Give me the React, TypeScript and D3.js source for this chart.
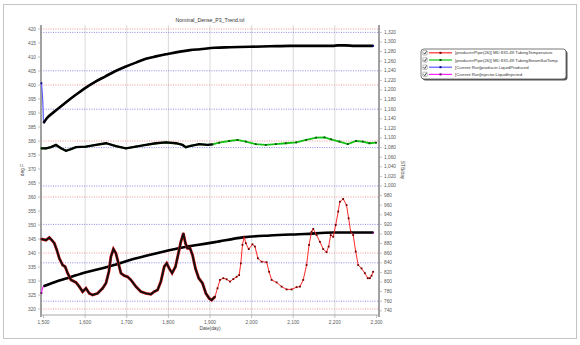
import React from "react";
import * as d3 from "d3";

const W = 580;
const H = 345;

// Tubing temperature (deg F) by date (day)
const tempDates = [
  1495, 1506, 1514, 1520, 1526, 1532, 1538, 1546, 1552, 1558,
  1566, 1578, 1586, 1594, 1602, 1610, 1618, 1630, 1642, 1650,
  1657, 1662, 1668, 1674, 1681, 1686, 1694, 1702, 1710, 1722,
  1734, 1746, 1758, 1766, 1774, 1782, 1790, 1796, 1802, 1809,
  1817, 1825, 1830, 1836, 1841, 1846, 1852, 1858, 1865, 1873,
  1882, 1890, 1898, 1904, 1912, 1918, 1924, 1932, 1940, 1948,
  1956, 1964, 1970, 1974, 1978, 1982, 1986, 1993, 2002, 2008,
  2015, 2024, 2036, 2042, 2048, 2060, 2072, 2084, 2096, 2108,
  2116, 2124, 2132, 2138, 2144, 2148, 2156, 2164, 2172, 2180,
  2185, 2190, 2196, 2202, 2208, 2212, 2220, 2228, 2233, 2238,
  2244, 2250, 2256, 2264, 2272, 2279, 2284, 2288, 2292,
];
const tubingTemp = [
  345.0, 344.6, 345.5, 344.6, 343.5, 341.1, 338.1, 335.7, 335.1, 332.8,
  330.4, 329.5, 328.0, 326.2, 327.4, 325.6, 325.0, 325.6, 327.4, 329.2,
  333.3, 338.7, 341.4, 339.9, 335.7, 332.8, 331.9, 331.5, 330.4, 328.0,
  326.2, 325.6, 325.3, 326.2, 326.8, 329.8, 335.1, 336.3, 334.5, 332.8,
  335.1, 340.5, 344.0, 347.0, 343.5, 341.7, 341.7, 339.3, 334.5, 331.0,
  329.2, 325.6, 323.8, 323.2, 324.4, 327.4, 330.4, 331.0, 330.6, 329.8,
  330.7, 331.5, 332.1, 336.3, 342.9, 345.8, 343.5, 341.4, 343.1, 342.3,
  338.1, 336.9, 336.7, 333.3, 330.4, 329.5, 328.0, 327.0, 327.0, 327.8,
  328.0, 330.4, 335.7, 342.9, 347.6, 348.6, 346.4, 344.0, 341.4, 340.3,
  342.3, 346.4, 345.8, 350.0, 354.8, 358.3, 359.3, 357.1, 352.4, 347.6,
  346.4, 340.5, 335.7, 334.5, 332.8, 331.0, 331.0, 331.9, 333.3,
];

// Tubing steam saturation temperature (deg F)
const satDates = [
  1495, 1506, 1518, 1530, 1542, 1554, 1566, 1578, 1602, 1626,
  1650, 1674, 1698, 1722, 1746, 1770, 1794, 1818, 1834, 1842,
  1854, 1874, 1894, 1906, 1922, 1946, 1966, 1986, 2010, 2034,
  2058, 2082, 2107, 2131, 2155, 2175, 2191, 2211, 2231, 2251,
  2267, 2283, 2299,
];
const satTemp = [
  377.4, 377.4, 377.8, 378.6, 377.4, 376.5, 377.1, 377.8, 378.0, 378.6,
  379.2, 378.2, 377.4, 378.0, 378.6, 379.2, 379.5, 379.2, 378.6, 377.8,
  378.3, 378.9, 378.6, 378.8, 379.4, 380.0, 380.4, 379.8, 378.9, 378.6,
  378.9, 379.2, 379.5, 380.4, 381.2, 381.3, 380.6, 379.8, 378.9, 380.0,
  379.8, 379.2, 379.4,
];

// Producer liquid rate (STB/day)
const prodDates = [
  1495, 1499, 1500, 1508, 1528, 1552, 1576, 1600, 1624, 1648,
  1672, 1698, 1722, 1746, 1770, 1798, 1828, 1852, 1876, 1912,
  1948, 1996, 2044, 2092, 2140, 2195, 2207, 2224, 2248, 2292,
];
const liquidProduced = [
  1214, 1160, 1131, 1141, 1156, 1173, 1189, 1204, 1217, 1228,
  1239, 1249, 1257, 1265, 1270, 1275, 1280, 1283, 1285, 1288,
  1289, 1290, 1291, 1292, 1292, 1292, 1293, 1293, 1292, 1292,
];

// Injector liquid rate (STB/day)
const injDates = [
  1495, 1500, 1528, 1564, 1600, 1629, 1672, 1708, 1749, 1787,
  1828, 1869, 1912, 1979, 2044, 2128, 2195, 2292,
];
const liquidInjected = [
  777, 791, 800, 810, 820, 826, 836, 846, 855, 863,
  871, 877, 883, 893, 897, 900, 903, 903,
];

const seriesNames = [
  "[producer/Pipe(26)] MD 835.49.TubingTemperature",
  "[producer/Pipe(26)] MD 835.49.TubingSteamSatTemp",
  "[Current Run]producer.LiquidProduced",
  "[Current Run]injector.LiquidInjected",
];
const seriesColors = ["#ff2a2a", "#12c212", "#5a5aff", "#ff20ff"];
const markerColors = ["#6a0000", "#0a4a0a", "#000080", "#600060"];

const title = "Nominal_Dense_P3_Trend.tvl";
const xTitle = "Date(day)";
const leftTitle = "deg F";
const rightTitle = "STB/day";

// Dark emphasis stroke extent along the date axis
const tempEmphasisEnd = 1916;
const flowEmphasisStart = 1500;

const FONT = "'Liberation Sans', Arial, sans-serif";

type P = { d: number; v: number };
const zip = (ds: number[], vs: number[]): P[] => ds.map((d, i) => ({ d, v: vs[i] }));

export default function App() {
  const left = 41, right = 379, top = 25, bottom = 315;
  const x = d3.scaleLinear().domain([1494, 2306]).range([left, right]);
  const yL = d3.scaleLinear().domain([317.86, 421.43]).range([bottom, top]);
  const yR = d3.scaleLinear().domain([731.25, 1335.4]).range([bottom, top]);

  const temp = zip(tempDates, tubingTemp);
  const sat = zip(satDates, satTemp);
  const prod = zip(prodDates, liquidProduced);
  const inj = zip(injDates, liquidInjected);

  const lineL = d3.line<P>().x((p) => x(p.d)).y((p) => yL(p.v));
  const lineR = d3
    .line<P>()
    .x((p) => x(p.d))
    .y((p) => yR(p.v))
    .curve(d3.curveMonotoneX);

  const leftTicks = d3.range(320, 421, 5);
  const leftGrid = d3.range(320, 421, 20);
  const rightTicks = d3.range(740, 1321, 20);
  const rightGrid = d3.range(760, 1321, 80);
  const xTicks = d3.range(1500, 2301, 100);
  const fmt = d3.format(",");

  const labelFill = "#5a5a5a";
  const fs = 4.8;

  const markers = (pts: P[], y: (v: number) => number, color: string, s: number) =>
    pts.map((p, i) => (
      <rect
        key={i}
        x={x(p.d) - s / 2}
        y={y(p.v) - s / 2}
        width={s}
        height={s}
        fill={color}
      />
    ));

  const legendX = 421, legendY = 49, legendW = 145, legendH = 30;
  const tempEmph = temp.filter((p) => p.d <= tempEmphasisEnd);

  return (
    <div style={{ position: "absolute", left: 0, top: 0 }}>
      <svg width={W} height={H} style={{ display: "block", background: "#fff" }}>
        <rect x={3.5} y={4.5} width={573} height={334} fill="#fff" stroke="#c4c4c4" />

        {/* vertical grid */}
        {xTicks
          .filter((t) => t > 1500 && t < 2300)
          .map((t) => (
            <line key={t} x1={x(t)} x2={x(t)} y1={top} y2={bottom} stroke="#d9d9d9" strokeWidth={1} />
          ))}
        {/* horizontal grids: left axis (red), right axis (blue) */}
        {leftGrid.map((v) => (
          <line
            key={"l" + v}
            x1={left}
            x2={right}
            y1={yL(v)}
            y2={yL(v)}
            stroke="#f07878"
            strokeWidth={0.8}
            strokeDasharray="1,1.4"
          />
        ))}
        {rightGrid.map((v) => (
          <line
            key={"r" + v}
            x1={left}
            x2={right}
            y1={yR(v)}
            y2={yR(v)}
            stroke="#6a6ae8"
            strokeWidth={0.8}
            strokeDasharray="1,1.4"
          />
        ))}

        {/* axes */}
        <line x1={left} x2={left} y1={top} y2={bottom + 2} stroke="#8a8a8a" strokeWidth={1.6} />
        <line x1={right} x2={right} y1={top} y2={bottom + 2} stroke="#8a8a8a" strokeWidth={1.6} />
        <line x1={left} x2={right} y1={bottom} y2={bottom} stroke="#a8a8a8" strokeWidth={1} />

        {leftTicks.map((v) => (
          <g key={"lt" + v}>
            <line x1={left - 3} x2={left} y1={yL(v)} y2={yL(v)} stroke="#9a9a9a" strokeWidth={0.6} />
            <text
              x={left - 5}
              y={yL(v)}
              textAnchor="end"
              dominantBaseline="central"
              fontSize={fs}
              fontFamily={FONT}
              fill={labelFill}
            >
              {v}
            </text>
          </g>
        ))}
        {rightTicks.map((v) => (
          <g key={"rt" + v}>
            <line x1={right} x2={right + 3} y1={yR(v)} y2={yR(v)} stroke="#9a9a9a" strokeWidth={0.6} />
            <text
              x={right + 5}
              y={yR(v)}
              textAnchor="start"
              dominantBaseline="central"
              fontSize={fs}
              fontFamily={FONT}
              fill={labelFill}
            >
              {fmt(v)}
            </text>
          </g>
        ))}
        {xTicks.map((t) => (
          <g key={"xt" + t}>
            <line x1={x(t)} x2={x(t)} y1={bottom} y2={bottom + 3} stroke="#9a9a9a" strokeWidth={0.6} />
            <text
              x={x(t)}
              y={bottom + 8.5}
              textAnchor="middle"
              fontSize={fs}
              fontFamily={FONT}
              fill={labelFill}
            >
              {fmt(t)}
            </text>
          </g>
        ))}

        {/* titles */}
        <text x={(left + right) / 2} y={22} textAnchor="middle" fontSize={5.2} fontFamily={FONT} fill="#333">
          {title}
        </text>
        <text x={(left + right) / 2} y={330} textAnchor="middle" fontSize={fs} fontFamily={FONT} fill="#444">
          {xTitle}
        </text>
        <text
          transform={`translate(22,${(top + bottom) / 2}) rotate(-90)`}
          textAnchor="middle"
          dominantBaseline="central"
          fontSize={fs}
          fontFamily={FONT}
          fill="#444"
        >
          {leftTitle}
        </text>
        <text
          transform={`translate(402,${(top + bottom) / 2}) rotate(90)`}
          textAnchor="middle"
          dominantBaseline="central"
          fontSize={fs}
          fontFamily={FONT}
          fill="#444"
        >
          {rightTitle}
        </text>

        {/* flow series */}
        <path d={lineR(prod) ?? ""} fill="none" stroke={seriesColors[2]} strokeWidth={1.2} />
        <path d={lineR(inj) ?? ""} fill="none" stroke={seriesColors[3]} strokeWidth={1.2} />
        <path
          d={lineR(prod.filter((p) => p.d >= flowEmphasisStart)) ?? ""}
          fill="none"
          stroke="#000"
          strokeWidth={2.6}
        />
        <path
          d={lineR(inj.filter((p) => p.d >= flowEmphasisStart)) ?? ""}
          fill="none"
          stroke="#000"
          strokeWidth={2.6}
        />
        {markers([prod[0], prod[prod.length - 1]], yR, markerColors[2], 1.8)}
        {markers([inj[0], inj[inj.length - 1]], yR, markerColors[3], 1.8)}

        {/* temperature series */}
        <path d={lineL(sat) ?? ""} fill="none" stroke={seriesColors[1]} strokeWidth={1.8} />
        {markers(sat, yL, markerColors[1], 1.8)}
        <path d={lineL(temp) ?? ""} fill="none" stroke={seriesColors[0]} strokeWidth={1} />
        {markers(temp, yL, markerColors[0], 1.8)}
        <path
          d={lineL(sat.filter((p) => p.d <= tempEmphasisEnd)) ?? ""}
          fill="none"
          stroke="#000"
          strokeWidth={2.3}
        />
        <path d={lineL(tempEmph) ?? ""} fill="none" stroke="#e01818" strokeWidth={2.9} />
        <path d={lineL(tempEmph) ?? ""} fill="none" stroke="#111" strokeWidth={1.9} />

        {/* legend */}
        <rect x={legendX + 1.5} y={legendY + 1.5} width={legendW} height={legendH} rx={3} fill="#555" />
        <rect x={legendX} y={legendY} width={legendW} height={legendH} rx={3} fill="#fff" stroke="#555" strokeWidth={0.8} />
        {seriesNames.map((name, i) => {
          const cy = legendY + 3.8 + i * 7.2;
          return (
            <g key={name}>
              <rect x={legendX + 1.8} y={cy - 2.2} width={4.4} height={4.4} rx={0.6} fill="#fff" stroke="#777" strokeWidth={0.5} />
              <path
                d={`M${legendX + 2.6},${cy} L${legendX + 3.8},${cy + 1.3} L${legendX + 5.6},${cy - 1.6}`}
                fill="none"
                stroke="#222"
                strokeWidth={0.8}
              />
              <line x1={legendX + 8} x2={legendX + 31} y1={cy} y2={cy} stroke={seriesColors[i]} strokeWidth={1.2} />
              <rect x={legendX + 18.5} y={cy - 1} width={2} height={2} fill={markerColors[i]} />
              <text
                x={legendX + 34}
                y={cy}
                dominantBaseline="central"
                fontSize={4.3}
                fontFamily={FONT}
                fill="#333"
              >
                {name}
              </text>
            </g>
          );
        })}
      </svg>
    </div>
  );
}
